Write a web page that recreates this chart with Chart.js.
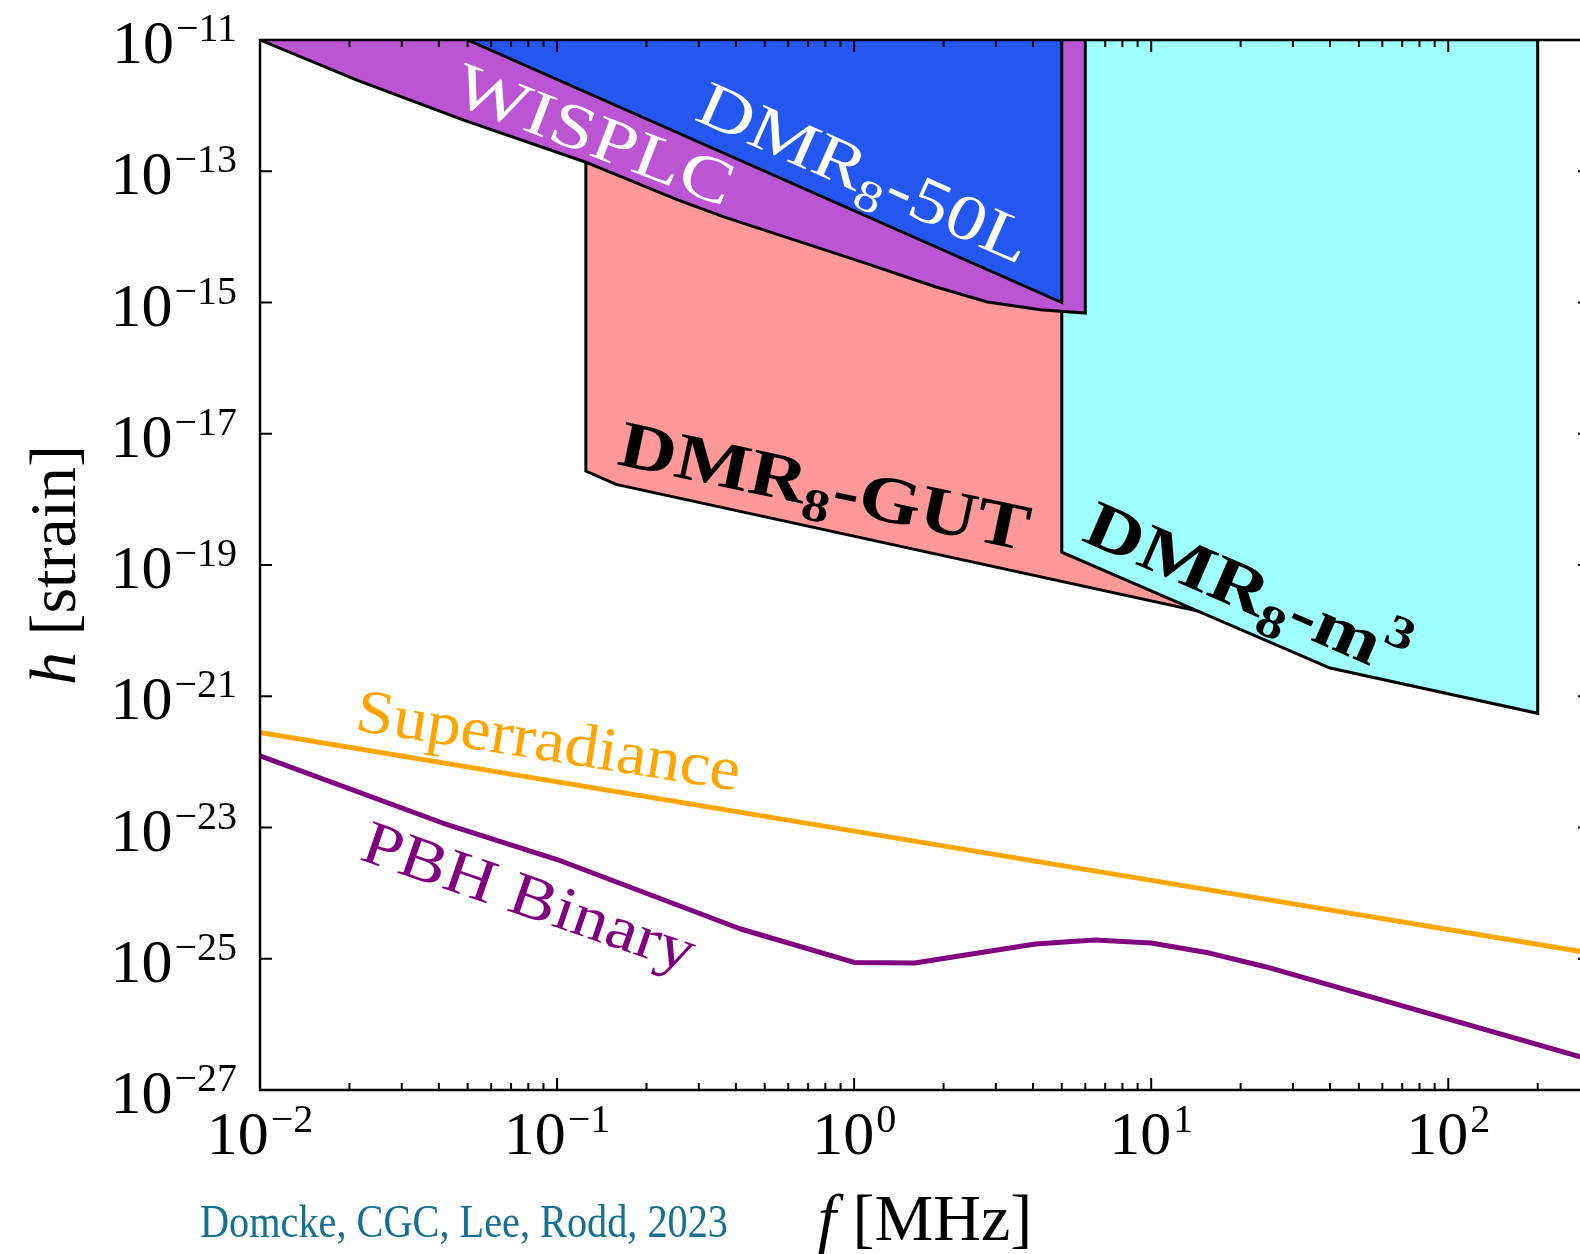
<!DOCTYPE html>
<html>
<head>
<meta charset="utf-8">
<title>Strain sensitivity</title>
<script src="https://cdn.jsdelivr.net/npm/chart.js@4.4.1/dist/chart.umd.min.js"></script>
<style>
    html, body { margin: 0; padding: 0; background: #fff; overflow: hidden; }
    #wrap { position: relative; width: 1580px; height: 1254px; overflow: hidden; }
    #strainChart { position: absolute; left: 0; top: 0; }
</style>
</head>
<body>
<div id="wrap"><canvas id="strainChart" width="1600" height="1254"></canvas></div>
<script>
// frequency in MHz, strain h (dimensionless)
const superFreq = [0.01, 1, 300];
const superStrain = [2.8e-22, 8.8e-24, 1.22e-25];

const pbhFreq = [0.01, 0.0414, 0.1, 0.415, 1, 1.6, 4.07, 6.46, 10, 15.7, 24.4, 300];
const pbhStrain = [1.24e-22, 1.16e-23, 3.25e-24, 2.84e-25, 8.8e-26, 8.6e-26, 1.68e-25, 1.93e-25, 1.74e-25, 1.22e-25, 7.5e-26, 2.9e-27];

// excluded regions, closed up to the top of the plot (1e-11)
const gutFreq = [0.125, 0.125, 0.158, 14.3, 14.3];
const gutStrain = [1e-11, 2.7e-18, 1.69e-18, 1.99e-20, 1e-11];

const m3Freq = [5, 5, 14.3, 40, 200, 200];
const m3Strain = [1e-11, 1.57e-19, 2.0e-20, 2.69e-21, 5.5e-22, 1e-11];

const wisplcFreq = [0.01, 0.0212, 0.0485, 0.123, 0.256, 0.366, 0.632, 1.09, 1.875, 2.81, 4.24, 6.0, 6.0];
const wisplcStrain = [1e-11, 2.45e-12, 6.0e-13, 1.41e-13, 3.63e-14, 2.0e-14, 8.9e-15, 3.98e-15, 1.74e-15, 1.02e-15, 7.76e-16, 6.9e-16, 1e-11];

const l50Freq = [0.05, 5, 5];
const l50Strain = [1e-11, 1e-15, 1e-11];

// tick labels are 10^exp
const xTickExps = [-2, -1, 0, 1, 2];
const yTickExps = [-11, -13, -15, -17, -19, -21, -23, -25, -27];

// text placed in the plot (anchored in data coords, baseline-left)
const labelNotes = [
    { parts: [{ t: 'WISPLC' }], f: 0.0435, h: 1.15e-12, angle: 21, color: '#ffffff', size: 64, bold: false, width: 294 },
    { parts: [{ t: 'DMR' }, { t: '8', sub: true }, { t: '-50L' }], f: 0.286, h: 6.25e-13, angle: 24, color: '#ffffff', size: 64, bold: false, width: 358 },
    { parts: [{ t: 'DMR' }, { t: '8', sub: true }, { t: '-GUT' }], f: 0.1575, h: 3.46e-18, angle: 12, color: '#000000', size: 66, bold: true, width: 418 },
    { parts: [{ t: 'DMR' }, { t: '8', sub: true }, { t: '-m' }, { t: '3', sup: true }], f: 5.77, h: 2.4e-19, angle: 23.5, color: '#000000', size: 66, bold: true, width: 345 },
    { parts: [{ t: 'Superradiance' }], f: 0.0207, h: 3.06e-22, angle: 9, color: '#ffa500', size: 62, bold: false, width: 388 },
    { parts: [{ t: 'PBH Binary' }], f: 0.0214, h: 3.3e-24, angle: 19, color: '#800080', size: 62, bold: false, width: 348 }
];

const FONT = '"Liberation Serif", "Times New Roman", serif';

function fontOf(size, bold, italic) {
    return `${italic ? 'italic ' : ''}${bold ? 'bold ' : ''}${size}px ${FONT}`;
}

function richWidth(ctx, parts, size, bold) {
    let w = 0;
    parts.forEach((p) => {
        ctx.font = fontOf(p.sub || p.sup ? size * 0.7 : size, bold, p.it);
        w += ctx.measureText(p.t).width;
    });
    return w;
}

function drawRich(ctx, parts, x0, y0, size, bold) {
    let xx = x0;
    parts.forEach((p) => {
        ctx.font = fontOf(p.sub || p.sup ? size * 0.7 : size, bold, p.it);
        const dy = p.sub ? size * 0.22 : (p.sup ? -size * 0.42 : 0);
        ctx.fillText(p.t, xx, y0 + dy);
        xx += ctx.measureText(p.t).width;
    });
}

// "10" with a raised exponent, like matplotlib's log tick labels
function drawPower(ctx, exp, ax, baseY, align) {
    const expText = exp < 0 ? '\u2212' + Math.abs(exp) : String(exp);
    ctx.font = fontOf(62);
    const wb = ctx.measureText('10').width;
    ctx.font = fontOf(40);
    const we = ctx.measureText(expText).width;
    const total = wb + 2 + we;
    const sx = align === 'center' ? ax - total / 2 : ax - total;
    ctx.font = fontOf(62);
    ctx.fillText('10', sx, baseY);
    ctx.font = fontOf(40);
    ctx.fillText(expText, sx + wb + 2, baseY - 22);
}

function toPoints(xs, ys) {
    return xs.map((x, i) => ({ x: x, y: ys[i] }));
}

function region(label, xs, ys, fillColor, order) {
    return {
        label: label,
        data: toPoints(xs, ys),
        borderColor: '#000000',
        borderWidth: 3,
        backgroundColor: fillColor,
        fill: 'end',
        pointRadius: 0,
        tension: 0,
        borderJoinStyle: 'miter',
        order: order
    };
}

function curve(label, xs, ys, color, width, order) {
    return {
        label: label,
        data: toPoints(xs, ys),
        borderColor: color,
        borderWidth: width,
        fill: false,
        pointRadius: 0,
        tension: 0,
        borderJoinStyle: 'round',
        borderCapStyle: 'round',
        order: order
    };
}

const mplAxes = {
    id: 'mplAxes',
    afterDatasetsDraw(chart) {
        const { ctx, chartArea: a, scales: { x, y } } = chart;
        ctx.save();

        // labels inside the plot
        labelNotes.forEach((n) => {
            const px = x.getPixelForValue(n.f);
            const py = y.getPixelForValue(n.h);
            const w = richWidth(ctx, n.parts, n.size, n.bold);
            ctx.save();
            ctx.translate(px, py);
            ctx.rotate(n.angle * Math.PI / 180);
            ctx.scale(n.width / w, 1);
            ctx.fillStyle = n.color;
            ctx.textBaseline = 'alphabetic';
            ctx.textAlign = 'left';
            drawRich(ctx, n.parts, 0, 0, n.size, n.bold);
            ctx.restore();
        });

        // frame
        ctx.strokeStyle = '#000000';
        ctx.lineWidth = 2.5;
        ctx.strokeRect(a.left, a.top, a.right - a.left, a.bottom - a.top);

        // inward ticks
        ctx.lineWidth = 2;
        const tick = (x1, y1, x2, y2) => {
            ctx.beginPath();
            ctx.moveTo(x1, y1);
            ctx.lineTo(x2, y2);
            ctx.stroke();
        };
        xTickExps.forEach((e) => {
            const px = x.getPixelForValue(Math.pow(10, e));
            tick(px, a.bottom, px, a.bottom - 12);
            tick(px, a.top, px, a.top + 12);
            for (let k = 2; k < 10; k++) {
                const v = k * Math.pow(10, e);
                if (v > x.max * 1.0001) break;
                const pm = x.getPixelForValue(v);
                tick(pm, a.bottom, pm, a.bottom - 7);
                tick(pm, a.top, pm, a.top + 7);
            }
        });
        yTickExps.forEach((e) => {
            const py = y.getPixelForValue(Math.pow(10, e));
            tick(a.left, py, a.left + 12, py);
            tick(a.right, py, a.right - 12, py);
        });

        // tick labels
        ctx.fillStyle = '#000000';
        ctx.textAlign = 'left';
        ctx.textBaseline = 'alphabetic';
        xTickExps.forEach((e) => {
            drawPower(ctx, e, x.getPixelForValue(Math.pow(10, e)), a.bottom + 64, 'center');
        });
        yTickExps.forEach((e) => {
            drawPower(ctx, e, a.left - 23, y.getPixelForValue(Math.pow(10, e)) + 23, 'right');
        });

        // axis titles
        const xTitle = [{ t: 'f', it: true }, { t: ' [MHz]' }];
        const xw = richWidth(ctx, xTitle, 66, false);
        drawRich(ctx, xTitle, (a.left + a.right) / 2 - xw / 2, 1240, 66, false);

        const yTitle = [{ t: 'h', it: true }, { t: ' [strain]' }];
        const yw = richWidth(ctx, yTitle, 66, false);
        ctx.save();
        ctx.translate(75, (a.top + a.bottom) / 2);
        ctx.rotate(-Math.PI / 2);
        drawRich(ctx, yTitle, -yw / 2, 0, 66, false);
        ctx.restore();

        // credit line
        const credit = 'Domcke, CGC, Lee, Rodd, 2023';
        ctx.font = fontOf(46);
        const cw = ctx.measureText(credit).width;
        ctx.save();
        ctx.translate(200, 1237);
        ctx.scale(528 / cw, 1);
        ctx.fillStyle = '#16708f';
        ctx.fillText(credit, 0, 0);
        ctx.restore();

        ctx.restore();
    }
};

new Chart(document.getElementById('strainChart').getContext('2d'), {
    type: 'line',
    data: {
        datasets: [
            curve('PBH Binary', pbhFreq, pbhStrain, '#800080', 5, 0),
            curve('Superradiance', superFreq, superStrain, '#ffa500', 5, 1),
            region('DMR8-50L', l50Freq, l50Strain, '#2357ef', 2),
            region('WISPLC', wisplcFreq, wisplcStrain, '#bb55d4', 3),
            region('DMR8-m3', m3Freq, m3Strain, '#9fffff', 4),
            region('DMR8-GUT', gutFreq, gutStrain, '#ff9999', 5)
        ]
    },
    options: {
        responsive: false,
        animation: false,
        devicePixelRatio: 1,
        layout: { padding: { left: 260, top: 40, right: 10, bottom: 164 } },
        plugins: {
            legend: { display: false },
            tooltip: { enabled: false }
        },
        scales: {
            x: { type: 'logarithmic', min: 0.01, max: 300, display: false },
            y: { type: 'logarithmic', min: 1e-27, max: 1e-11, display: false }
        }
    },
    plugins: [mplAxes]
});
</script>
</body>
</html>
